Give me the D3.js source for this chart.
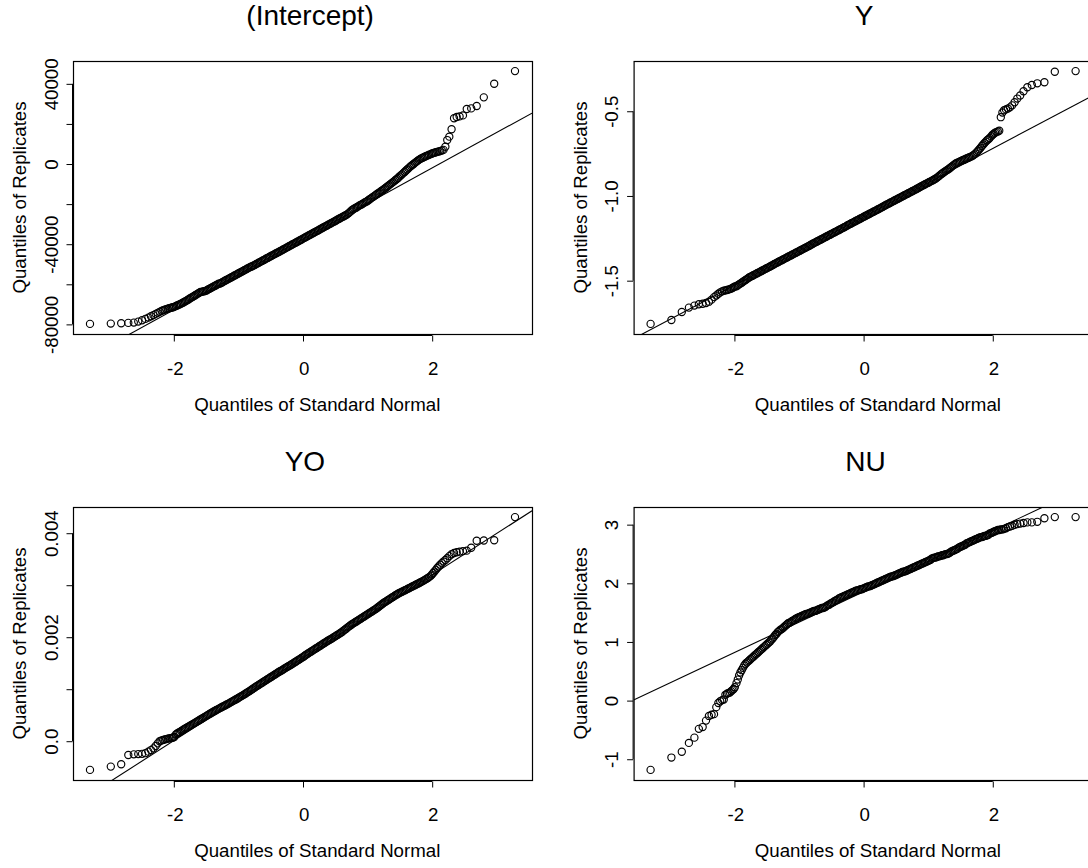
<!DOCTYPE html>
<html lang="en">

<head>
    <meta charset="UTF-8">
    <script src="https://d3js.org/d3.v7.min.js"></script>
    <title>Normal QQ plots of replicates</title>
    <style>
        body { margin: 0; background: #fff; }
        svg { display: block; font-family: "Liberation Sans", Arial, Helvetica, sans-serif; }
    </style>
</head>

<body>
    <div id="chart"></div>
    <script>
        // quantiles of the standard normal (x positions shared by all four panels)
        const normQ = [
            -3.29, -2.968, -2.807, -2.697, -2.612, -2.543, -2.484, -2.432, -2.387, -2.346, -2.308, -2.273,
            -2.241, -2.212, -2.183, -2.157, -2.132, -2.108, -2.086, -2.064, -2.043, -2.023, -2.004, -1.986,
            -1.96, -1.94, -1.92, -1.9, -1.88, -1.86, -1.84, -1.82, -1.8, -1.78,
            -1.76, -1.74, -1.72, -1.7, -1.68, -1.66, -1.64, -1.62, -1.6, -1.58,
            -1.56, -1.54, -1.52, -1.5, -1.48, -1.46, -1.44, -1.42, -1.4, -1.38,
            -1.36, -1.34, -1.32, -1.3, -1.28, -1.26, -1.24, -1.22, -1.2, -1.18,
            -1.16, -1.14, -1.12, -1.1, -1.08, -1.06, -1.04, -1.02, -1, -0.98,
            -0.96, -0.94, -0.92, -0.9, -0.88, -0.86, -0.84, -0.82, -0.8, -0.78,
            -0.76, -0.74, -0.72, -0.7, -0.68, -0.66, -0.64, -0.62, -0.6, -0.58,
            -0.56, -0.54, -0.52, -0.5, -0.48, -0.46, -0.44, -0.42, -0.4, -0.38,
            -0.36, -0.34, -0.32, -0.3, -0.28, -0.26, -0.24, -0.22, -0.2, -0.18,
            -0.16, -0.14, -0.12, -0.1, -0.08, -0.06, -0.04, -0.02, 0, 0.02,
            0.04, 0.06, 0.08, 0.1, 0.12, 0.14, 0.16, 0.18, 0.2, 0.22,
            0.24, 0.26, 0.28, 0.3, 0.32, 0.34, 0.36, 0.38, 0.4, 0.42,
            0.44, 0.46, 0.48, 0.5, 0.52, 0.54, 0.56, 0.58, 0.6, 0.62,
            0.64, 0.66, 0.68, 0.7, 0.72, 0.74, 0.76, 0.78, 0.8, 0.82,
            0.84, 0.86, 0.88, 0.9, 0.92, 0.94, 0.96, 0.98, 1, 1.02,
            1.04, 1.06, 1.08, 1.1, 1.12, 1.14, 1.16, 1.18, 1.2, 1.22,
            1.24, 1.26, 1.28, 1.3, 1.32, 1.34, 1.36, 1.38, 1.4, 1.42,
            1.44, 1.46, 1.48, 1.5, 1.52, 1.54, 1.56, 1.58, 1.6, 1.62,
            1.64, 1.66, 1.68, 1.7, 1.72, 1.74, 1.76, 1.78, 1.8, 1.82,
            1.84, 1.86, 1.88, 1.9, 1.92, 1.94, 1.96,
            1.986, 2.004, 2.023, 2.043, 2.064, 2.086, 2.108, 2.132, 2.157, 2.183, 2.212, 2.241,
            2.273, 2.308, 2.346, 2.387, 2.432, 2.484, 2.543, 2.612, 2.697, 2.807, 2.968, 3.29
        ];

        // sorted replicates, one value per entry of normQ
        const interceptVals = [
            -80000, -79850, -79690, -79500, -79350, -78850, -78200, -77500, -76860, -76200, -75600, -75000,
            -74500, -74000, -73500, -73200, -72900, -72600, -72400, -72200, -72000, -71800, -71700, -71500,
            -71100, -70800, -70500, -70200, -69900, -69600, -69200, -68800, -68500, -68100,
            -67700, -67200, -66900, -66500, -66100, -65700, -65300, -64900, -64500, -64100,
            -64000, -63800, -63700, -63500, -63200, -62800, -62500, -62100, -61800, -61400,
            -61100, -60700, -60400, -60000, -59900, -59600, -59200, -58800, -58500, -58100,
            -57800, -57400, -57100, -56700, -56400, -56000, -55700, -55300, -55000, -54600,
            -54300, -53900, -53600, -53200, -52900, -52500, -52200, -51800, -51500, -51300,
            -50900, -50600, -50200, -49900, -49500, -49200, -48800, -48500, -48100, -47800,
            -47400, -47100, -46700, -46400, -46000, -45700, -45300, -45000, -44600, -44300,
            -44000, -43600, -43300, -42900, -42600, -42200, -41800, -41500, -41100, -40800,
            -40400, -40100, -39700, -39400, -39000, -38700, -38300, -38000, -37600, -37200,
            -36900, -36500, -36200, -35800, -35500, -35100, -34800, -34400, -34100, -33700,
            -33400, -33000, -32600, -32300, -31900, -31600, -31200, -30900, -30500, -30200,
            -29800, -29500, -29100, -28800, -28400, -28000, -27700, -27300, -27000, -26600,
            -26300, -25900, -25600, -25100, -24600, -24000, -23400, -22900, -22500, -22200,
            -21800, -21400, -21000, -20600, -20300, -19900, -19500, -19100, -18800, -18300,
            -17800, -17400, -16900, -16500, -16000, -15600, -15100, -14700, -14200, -13700,
            -13300, -12800, -12300, -11800, -11300, -10800, -10300, -9800, -9300, -8800,
            -8200, -7700, -7200, -6500, -6000, -5400, -4800, -4200, -3600, -3000,
            -2400, -1800, -1200, -700, -200, 300, 800, 1300, 1800, 2200,
            2600, 2900, 3200, 3500, 3800, 4100, 4400,
            4700, 5000, 5200, 5400, 5600, 5800, 6000, 6200, 6500, 6800, 8400, 11700,
            13400, 17100, 22600, 23200, 23500, 24000, 27200, 27500, 28700, 33000, 39800, 46100
        ];

        const yVals = [
            -1.758, -1.735, -1.688, -1.662, -1.65, -1.642, -1.639, -1.635, -1.627, -1.615, -1.6, -1.59,
            -1.58, -1.572, -1.566, -1.562, -1.56, -1.558, -1.556, -1.553, -1.55, -1.546, -1.541, -1.537,
            -1.536, -1.53, -1.525, -1.52, -1.515, -1.509, -1.504, -1.499, -1.494, -1.488,
            -1.483, -1.479, -1.475, -1.471, -1.467, -1.463, -1.459, -1.455, -1.451, -1.447,
            -1.443, -1.439, -1.435, -1.431, -1.427, -1.423, -1.419, -1.415, -1.411, -1.406,
            -1.402, -1.398, -1.394, -1.39, -1.386, -1.382, -1.378, -1.374, -1.37, -1.366,
            -1.362, -1.358, -1.354, -1.35, -1.346, -1.342, -1.338, -1.334, -1.33, -1.326,
            -1.322, -1.318, -1.314, -1.31, -1.306, -1.302, -1.298, -1.294, -1.289, -1.285,
            -1.281, -1.277, -1.273, -1.269, -1.265, -1.261, -1.257, -1.253, -1.249, -1.245,
            -1.241, -1.237, -1.233, -1.229, -1.225, -1.221, -1.217, -1.213, -1.209, -1.205,
            -1.201, -1.197, -1.193, -1.189, -1.185, -1.181, -1.176, -1.172, -1.168, -1.164,
            -1.16, -1.156, -1.152, -1.148, -1.144, -1.14, -1.136, -1.132, -1.128, -1.124,
            -1.12, -1.116, -1.112, -1.108, -1.104, -1.1, -1.096, -1.092, -1.088, -1.084,
            -1.08, -1.076, -1.072, -1.068, -1.063, -1.059, -1.055, -1.051, -1.047, -1.043,
            -1.039, -1.035, -1.031, -1.027, -1.023, -1.019, -1.015, -1.011, -1.007, -1.003,
            -0.999, -0.995, -0.991, -0.987, -0.983, -0.979, -0.975, -0.971, -0.967, -0.963,
            -0.959, -0.955, -0.95, -0.946, -0.942, -0.938, -0.934, -0.93, -0.926, -0.922,
            -0.918, -0.914, -0.91, -0.906, -0.901, -0.896, -0.89, -0.884, -0.877, -0.872,
            -0.866, -0.861, -0.855, -0.85, -0.845, -0.839, -0.833, -0.827, -0.821, -0.815,
            -0.81, -0.806, -0.803, -0.799, -0.796, -0.792, -0.789, -0.786, -0.782, -0.779,
            -0.776, -0.772, -0.769, -0.764, -0.759, -0.752, -0.744, -0.736, -0.727, -0.718,
            -0.708, -0.699, -0.69, -0.682, -0.674, -0.668, -0.661,
            -0.65, -0.642, -0.636, -0.63, -0.626, -0.622, -0.618, -0.538, -0.51, -0.497, -0.492, -0.487,
            -0.48, -0.468, -0.45, -0.428, -0.41, -0.385, -0.361, -0.348, -0.338, -0.332, -0.27, -0.266
        ];

        const yoVals = [
            -0.000561, -0.000498, -0.000453, -0.000274, -0.000262, -0.000257, -0.000253, -0.00024, -0.00021, -0.00018, -0.000147, -0.000102,
            -0.000051, -0.00001, 0.000005, 0.000015, 0.000025, 0.000032, 0.00004, 0.000045, 0.00005, 0.000055, 0.000062, 0.000072,
            0.00012, 0.000138, 0.000154, 0.000169, 0.000184, 0.0002, 0.000215, 0.000231, 0.000245, 0.00026,
            0.000275, 0.000289, 0.000304, 0.000319, 0.000334, 0.000348, 0.000362, 0.000378, 0.000393, 0.000408,
            0.000423, 0.000438, 0.000454, 0.000469, 0.000483, 0.000498, 0.000513, 0.000528, 0.000543, 0.000557,
            0.000571, 0.000585, 0.000599, 0.000613, 0.000627, 0.00064, 0.000653, 0.000666, 0.000678, 0.000692,
            0.000705, 0.000719, 0.000733, 0.000747, 0.000761, 0.000775, 0.000789, 0.000803, 0.000818, 0.000833,
            0.000847, 0.000862, 0.000877, 0.000892, 0.000908, 0.000924, 0.00094, 0.000955, 0.000972, 0.00099,
            0.001007, 0.001024, 0.00104, 0.001056, 0.001072, 0.001088, 0.001104, 0.00112, 0.001136, 0.001152,
            0.001168, 0.001184, 0.0012, 0.001216, 0.001231, 0.001247, 0.001263, 0.001279, 0.001295, 0.001311,
            0.001327, 0.00134, 0.001354, 0.00137, 0.001386, 0.001402, 0.001418, 0.001431, 0.001445, 0.001461,
            0.001476, 0.001492, 0.001508, 0.001524, 0.00154, 0.001556, 0.001572, 0.001588, 0.001604, 0.00162,
            0.001638, 0.001657, 0.001673, 0.001689, 0.001705, 0.001721, 0.001737, 0.001752, 0.001768, 0.001784,
            0.0018, 0.001816, 0.001832, 0.001848, 0.001864, 0.00188, 0.001896, 0.001912, 0.001927, 0.001941,
            0.001955, 0.001971, 0.001987, 0.002003, 0.002018, 0.002034, 0.00205, 0.002066, 0.002082, 0.002101,
            0.002121, 0.00214, 0.002159, 0.002179, 0.002198, 0.002217, 0.002235, 0.002251, 0.002267, 0.002283,
            0.002298, 0.002314, 0.00233, 0.002346, 0.002362, 0.002378, 0.002394, 0.00241, 0.002426, 0.002442,
            0.002458, 0.002474, 0.00249, 0.002506, 0.002522, 0.002538, 0.002557, 0.002576, 0.002595, 0.002614,
            0.002634, 0.002653, 0.002669, 0.002685, 0.002701, 0.002717, 0.002733, 0.002749, 0.002765, 0.002781,
            0.002797, 0.002813, 0.002827, 0.00284, 0.002852, 0.002864, 0.002877, 0.00289, 0.002902, 0.002915,
            0.002928, 0.00294, 0.002953, 0.002966, 0.002978, 0.002991, 0.003004, 0.003016, 0.003029, 0.003042,
            0.003055, 0.003069, 0.003083, 0.003098, 0.003113, 0.003129, 0.003146,
            0.00317, 0.003195, 0.003225, 0.003255, 0.003285, 0.00332, 0.00335, 0.003385, 0.003415, 0.003445, 0.003475, 0.00351,
            0.00355, 0.003585, 0.00361, 0.003625, 0.003635, 0.003645, 0.003655, 0.00371, 0.003845, 0.00385, 0.003855, 0.0043
        ];

        const nuVals = [
            -1.19, -0.98, -0.88, -0.73, -0.64, -0.49, -0.46, -0.35, -0.27, -0.25, -0.24, -0.12,
            -0.05, -0.02, 0.0, 0.01, 0.09, 0.11, 0.12, 0.13, 0.15, 0.17, 0.19, 0.22,
            0.29, 0.35, 0.42, 0.47, 0.51, 0.55, 0.59, 0.62, 0.64, 0.66,
            0.68, 0.7, 0.72, 0.74, 0.76, 0.78, 0.8, 0.82, 0.84, 0.86,
            0.88, 0.9, 0.92, 0.94, 0.96, 0.98, 1.0, 1.03, 1.05, 1.08,
            1.11, 1.13, 1.16, 1.18, 1.2, 1.21, 1.23, 1.25, 1.27, 1.29,
            1.31, 1.32, 1.33, 1.35, 1.36, 1.37, 1.39, 1.4, 1.41, 1.42,
            1.43, 1.44, 1.45, 1.46, 1.47, 1.47, 1.48, 1.49, 1.5, 1.51,
            1.52, 1.52, 1.53, 1.54, 1.55, 1.56, 1.57, 1.57, 1.58, 1.59,
            1.61, 1.62, 1.63, 1.65, 1.66, 1.67, 1.69, 1.7, 1.71, 1.73,
            1.74, 1.75, 1.76, 1.77, 1.78, 1.79, 1.8, 1.81, 1.82, 1.83,
            1.84, 1.85, 1.86, 1.87, 1.87, 1.88, 1.89, 1.89, 1.9, 1.91,
            1.92, 1.93, 1.94, 1.94, 1.95, 1.96, 1.97, 1.98, 1.99, 2.0,
            2.01, 2.02, 2.03, 2.04, 2.05, 2.06, 2.07, 2.08, 2.09, 2.1,
            2.11, 2.11, 2.12, 2.13, 2.14, 2.15, 2.16, 2.17, 2.18, 2.19,
            2.19, 2.2, 2.21, 2.22, 2.23, 2.24, 2.25, 2.26, 2.27, 2.28,
            2.29, 2.3, 2.31, 2.32, 2.33, 2.34, 2.35, 2.36, 2.37, 2.38,
            2.39, 2.41, 2.42, 2.43, 2.43, 2.44, 2.45, 2.45, 2.46, 2.47,
            2.47, 2.48, 2.49, 2.49, 2.5, 2.51, 2.53, 2.54, 2.55, 2.56,
            2.57, 2.58, 2.6, 2.61, 2.62, 2.63, 2.64, 2.65, 2.67, 2.68,
            2.69, 2.7, 2.71, 2.72, 2.73, 2.74, 2.75, 2.76, 2.77, 2.78,
            2.78, 2.79, 2.8, 2.8, 2.81, 2.82, 2.84,
            2.85, 2.86, 2.87, 2.88, 2.89, 2.9, 2.9, 2.91, 2.91, 2.92, 2.93, 2.95,
            2.96, 2.97, 2.99, 3.0, 3.01, 3.02, 3.03, 3.03, 3.04, 3.1, 3.12, 3.12
        ];

        const panelTitles = ["(Intercept)", "Y", "YO", "NU"];

        // qqline for each panel: [intercept, slope]
        const refLines = [[-37750, 17700], [-1.128, 0.2018], [0.001589, 0.000797], [1.8456, 0.5193]];

        const xTicks = [-2, 0, 2];
        const yTicks = [
            [-80000, -60000, -40000, -20000, 0, 20000, 40000],
            [-1.5, -1.0, -0.5],
            [0, 0.001, 0.002, 0.003, 0.004],
            [-1, 0, 1, 2, 3]
        ];
        const yTickLabels = [
            ["-80000", "", "-40000", "", "0", "", "40000"],
            ["-1.5", "-1.0", "-0.5"],
            ["0.0", "", "0.002", "", "0.004"],
            ["-1", "0", "1", "2", "3"]
        ];

        const seriesVals = [interceptVals, yVals, yoVals, nuVals];

        const width = 1088;
        const height = 868;
        const plotW = 459, plotH = 273;
        const boxLeft = 73, boxTop = 61;
        const colStep = 560.6, rowStep = 446;
        const fontSize = 18.7;

        const svg = d3.select("#chart")
            .append("svg")
            .attr("width", width)
            .attr("height", height);

        // R style axis range: data range plus 4% on each side
        function padRange(ext) {
            const d = (ext[1] - ext[0]) * 0.04;
            return [ext[0] - d, ext[1] + d];
        }

        // horizontal strings in the original sit a little right of centre
        function nudge(sel) {
            sel.each(function () {
                d3.select(this).attr("dx", 0.06 * this.getComputedTextLength());
            });
        }

        const xDomain = padRange(d3.extent(normQ));

        seriesVals.forEach((vals, i) => {
            const ox = boxLeft + (i % 2) * colStep;
            const oy = boxTop + Math.floor(i / 2) * rowStep;
            const g = svg.append("g").attr("transform", `translate(${ox},${oy})`);

            const x = d3.scaleLinear().domain(xDomain).range([0, plotW]);
            const y = d3.scaleLinear().domain(padRange(d3.extent(vals))).range([plotH, 0]);

            const clipId = "clip" + i;
            g.append("clipPath").attr("id", clipId)
                .append("rect").attr("width", plotW).attr("height", plotH);

            // reference line
            const [a, b] = refLines[i];
            g.append("line")
                .attr("clip-path", `url(#${clipId})`)
                .attr("x1", x(xDomain[0])).attr("y1", y(a + b * xDomain[0]))
                .attr("x2", x(xDomain[1])).attr("y2", y(a + b * xDomain[1]))
                .attr("stroke", "#000")
                .attr("stroke-width", 1.1);

            // points
            g.append("g")
                .selectAll("circle")
                .data(normQ.map((q, k) => [q, vals[k]]))
                .join("circle")
                .attr("cx", d => x(d[0]))
                .attr("cy", d => y(d[1]))
                .attr("r", 3.6)
                .attr("fill", "none")
                .attr("stroke", "#000")
                .attr("stroke-width", 1.15);

            // box
            g.append("rect")
                .attr("x", 0.5).attr("y", 0.5)
                .attr("width", plotW).attr("height", plotH)
                .attr("fill", "none")
                .attr("stroke", "#000")
                .attr("stroke-width", 1.2);

            // x axis
            const xAxis = g.append("g")
                .attr("transform", `translate(0.5,${plotH + 1.5})`)
                .call(d3.axisBottom(x).tickValues(xTicks).tickSize(6).tickSizeOuter(0)
                    .tickPadding(20).tickFormat(d => String(d)));
            xAxis.select(".domain").remove();
            xAxis.append("line")
                .attr("x1", x(xTicks[0])).attr("x2", x(xTicks[xTicks.length - 1]))
                .attr("stroke", "#000");
            xAxis.selectAll("text")
                .attr("font-size", fontSize)
                .attr("font-family", "Liberation Sans, Arial, sans-serif")
                .attr("fill", "#000")
                .call(nudge);

            // y axis, labels written parallel to the axis
            const ticks = yTicks[i];
            const labels = yTickLabels[i];
            const yAxis = g.append("g")
                .attr("transform", "translate(-0.5,0.5)")
                .call(d3.axisLeft(y).tickValues(ticks).tickSize(6).tickSizeOuter(0)
                    .tickFormat((d, k) => labels[k]));
            yAxis.select(".domain").remove();
            yAxis.append("line")
                .attr("y1", y(ticks[0])).attr("y2", y(ticks[ticks.length - 1]))
                .attr("stroke", "#000");
            yAxis.selectAll(".tick text")
                .attr("x", null)
                .attr("dy", null)
                .attr("text-anchor", "middle")
                .attr("transform", "translate(-15,0) rotate(-90)")
                .attr("font-size", fontSize)
                .attr("font-family", "Liberation Sans, Arial, sans-serif")
                .attr("fill", "#000");

            // titles
            g.append("text")
                .attr("x", plotW / 2)
                .attr("y", 25 - boxTop)
                .attr("text-anchor", "middle")
                .attr("font-size", 28)
                .text(panelTitles[i])
                .call(nudge);

            g.append("text")
                .attr("x", plotW / 2)
                .attr("y", plotH + 76.5)
                .attr("text-anchor", "middle")
                .attr("font-size", fontSize)
                .text("Quantiles of Standard Normal")
                .call(nudge);

            g.append("text")
                .attr("transform", `translate(-47,${plotH / 2}) rotate(-90)`)
                .attr("text-anchor", "middle")
                .attr("font-size", fontSize)
                .text("Quantiles of Replicates");
        });
    </script>
</body>

</html>
